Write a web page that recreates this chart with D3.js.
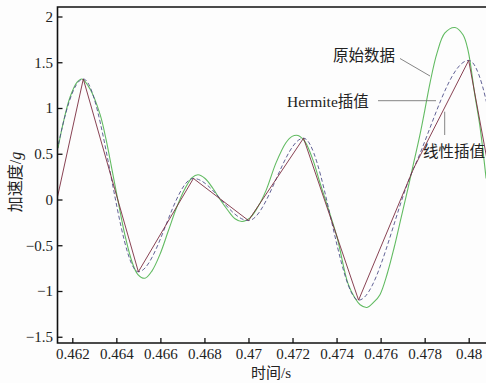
<!DOCTYPE html>
<html>
<head>
  <script src="https://cdn.jsdelivr.net/npm/d3@7"></script>
  <style>
    body { margin: 0; background: #fdfdfd; }
    svg { display: block; }
  </style>
</head>
<body>
<svg id="chart" width="486" height="383"></svg>

<script>
    // sample points used by the interpolations (time in s, accel in g)
    var knotTime = [0.46, 0.4625, 0.465, 0.4675, 0.47, 0.4725, 0.475, 0.4775, 0.48, 0.4825];
    var knotValue = [-1.43, 1.317, -0.79, 0.23, -0.23, 0.67, -1.10, 0.34, 1.52, -1.74];

    // original signal
    var origTime = [0.46135, 0.46158, 0.46190, 0.46221, 0.46244, 0.46280, 0.46326, 0.46353,
        0.46380, 0.46408, 0.46440, 0.46471, 0.46498, 0.46530, 0.46562, 0.46598, 0.46635,
        0.46675, 0.46712, 0.46744, 0.46771, 0.46803, 0.46839, 0.46871, 0.46907, 0.46939,
        0.46971, 0.47007, 0.47043, 0.47080, 0.47125, 0.47170, 0.47198, 0.47225, 0.47257,
        0.47293, 0.47325, 0.47357, 0.47402, 0.47452, 0.47484, 0.47507, 0.47538, 0.47570,
        0.47597, 0.47629, 0.47661, 0.47693, 0.47724, 0.47751, 0.47778, 0.47801, 0.47824,
        0.47856, 0.47892, 0.47938, 0.47974, 0.47997, 0.48028, 0.48051, 0.48079];
    var origValue = [0.56, 0.83, 1.12, 1.28, 1.317, 1.21, 0.93, 0.66,
        0.33, -0.02, -0.40, -0.68, -0.82, -0.86, -0.78, -0.60, -0.35,
        -0.08, 0.12, 0.24, 0.27, 0.23, 0.12, 0.0, -0.12, -0.21,
        -0.24, -0.20, -0.08, 0.10, 0.40, 0.62, 0.69, 0.70, 0.63,
        0.43, 0.18, -0.06, -0.41, -0.92, -1.08, -1.15, -1.18, -1.12,
        -1.04, -0.82, -0.53, -0.20, 0.12, 0.41, 0.70, 0.98, 1.27,
        1.60, 1.82, 1.88, 1.80, 1.63, 1.14, 0.80, 0.23];

    var xTicks = [0.462, 0.464, 0.466, 0.468, 0.47, 0.472, 0.474, 0.476, 0.478, 0.48];
    var yTicks = [-1.5, -1, -0.5, 0, 0.5, 1, 1.5, 2];

    var svg = d3.select("#chart");
    var mLeft = 57.5, mRight = 487, mTop = 7, mBottom = 343;

    var x = d3.scaleLinear().domain([0.462, 0.48]).range([72.3, 468.7]);
    var y = d3.scaleLinear().domain([0, 1]).range([199.5, 108]);

    var knots = knotTime.map((t, i) => ({t: t, v: knotValue[i]}));
    var orig = origTime.map((t, i) => ({t: t, v: origValue[i]}));

    svg.append("clipPath").attr("id", "plotClip")
      .append("rect")
        .attr("x", mLeft).attr("y", mTop)
        .attr("width", mRight - mLeft).attr("height", mBottom - mTop);

    var plot = svg.append("g").attr("clip-path", "url(#plotClip)");

    var line = d3.line().x(d => x(d.t)).y(d => y(d.v));

    // original data
    plot.append("path")
        .datum(orig)
        .attr("fill", "none")
        .attr("stroke", "#62bb62")
        .attr("stroke-width", 1.1)
        .attr("d", line.curve(d3.curveCatmullRom.alpha(0.5)));

    // hermite interpolation
    plot.append("path")
        .datum(knots)
        .attr("fill", "none")
        .attr("stroke", "#50508a")
        .attr("stroke-width", 0.9)
        .attr("stroke-dasharray", "4,2.5")
        .attr("d", line.curve(d3.curveMonotoneX));

    // linear interpolation
    plot.append("path")
        .datum(knots)
        .attr("fill", "none")
        .attr("stroke", "#7a2c40")
        .attr("stroke-width", 0.9)
        .attr("d", line.curve(d3.curveLinear));

    // axes
    var xAxis = svg.append("g")
        .attr("transform", "translate(0," + mBottom + ")")
        .call(d3.axisBottom(x).tickValues(xTicks).tickFormat(d3.format("")).tickSizeInner(-5).tickSizeOuter(0).tickPadding(5));
    var yAxis = svg.append("g")
        .attr("transform", "translate(" + mLeft + ",0)")
        .call(d3.axisLeft(y).tickValues(yTicks).tickFormat(d => d3.format("")(d).replace("-", "\u2212")).tickSizeInner(-5).tickSizeOuter(0).tickPadding(4.5));

    [xAxis, yAxis].forEach(function(a) {
        a.select(".domain").remove();
        a.selectAll("line").attr("stroke", "#111").attr("stroke-width", 1.3);
        a.selectAll("text")
            .attr("font-family", "Liberation Serif, Times New Roman, serif")
            .attr("font-size", 15)
            .attr("fill", "#222");
    });

    // frame: left, top, bottom
    svg.append("path")
        .attr("d", "M" + mRight + "," + mTop + "H" + mLeft + "V" + mBottom + "H" + mRight)
        .attr("fill", "none")
        .attr("stroke", "#111")
        .attr("stroke-width", 1.6);

    var cjk = "Liberation Serif, Noto Sans CJK SC, serif";

    // annotations
    var leaders = [
        [[400, 58.5], [430, 76]],
        [[378, 100.7], [436, 100.7]],
        [[444.7, 111.7], [444.7, 135]]
    ];
    svg.selectAll(".leader")
        .data(leaders)
        .enter()
        .append("path")
        .attr("class", "leader")
        .attr("d", d => "M" + d[0] + "L" + d[1])
        .attr("stroke", "#777")
        .attr("stroke-width", 0.9);

    var notes = [
        {text: "原始数据", x: 333, y: 61},
        {text: "Hermite插值", x: 287, y: 106.5},
        {text: "线性插值", x: 423, y: 157}
    ];
    svg.selectAll(".note")
        .data(notes)
        .enter()
        .append("text")
        .attr("class", "note")
        .attr("x", d => d.x)
        .attr("y", d => d.y)
        .attr("font-family", cjk)
        .attr("font-size", 15.5)
        .attr("fill", "#222")
        .text(d => d.text);

    // axis titles
    svg.append("text")
        .attr("x", 271).attr("y", 378)
        .attr("text-anchor", "middle")
        .attr("font-family", cjk)
        .attr("font-size", 15)
        .attr("fill", "#222")
        .text("时间/s");

    var yt = svg.append("text")
        .attr("transform", "translate(21,182) rotate(-90)")
        .attr("text-anchor", "middle")
        .attr("font-family", cjk)
        .attr("font-size", 16)
        .attr("fill", "#222");
    yt.append("tspan").text("加速度/");
    yt.append("tspan").attr("font-style", "italic").text("g");
</script>
</body>
</html>
